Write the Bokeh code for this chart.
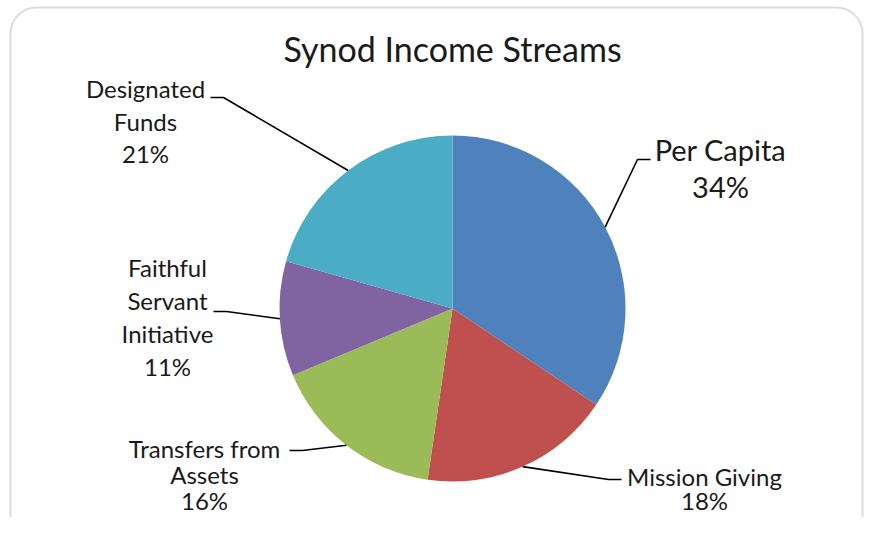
import math
from bokeh.plotting import figure
from bokeh.models import Range1d, BoxAnnotation, ColumnDataSource
from bokeh.core.properties import value
from bokeh.embed import file_html
from bokeh.resources import INLINE

# ---- data ----
title_text = "Synod Income Streams"
categories = ["Per Capita", "Mission Giving", "Transfers from Assets",
              "Faithful Servant Initiative", "Designated Funds"]
shares = [34.4, 17.9, 16.4, 10.7, 20.6]
colors = ["#4F81BD", "#C0504D", "#9BBB59", "#8064A2", "#4BACC6"]

# ---- layout (canvas pixels, origin top-left) ----
W, H = 865, 517
def Y(sy):
    return H - sy

BASE_FIX = 0.41  # em shift so that the drawn baseline lands where wanted

def text_y(baseline, size_px):
    return Y(baseline - BASE_FIX * size_px)

CX, CY, R = 452, 308, 173
FONT = value("Lato")
TXT = "#1a1a1a"

label_layout = {
    "Per Capita": dict(lines=["Per Capita"], cx=720, base=161, step=37, size=29,
                       elbow=[(650, 159), (637, 159)]),
    "Mission Giving": dict(lines=["Mission Giving"], cx=704, base=486, step=24, size=24,
                           elbow=[(621, 479), (608, 479)]),
    "Transfers from Assets": dict(lines=["Transfers from", "Assets"], cx=204, base=458, step=26,
                                  size=24, elbow=[(289, 450), (302, 450)]),
    "Faithful Servant Initiative": dict(lines=["Faithful", "Servant", "Initiative"], cx=167, base=277,
                                        step=33, size=24, elbow=[(213, 311), (226, 311)]),
    "Designated Funds": dict(lines=["Designated", "Funds"], cx=145, base=98, step=32.5, size=24,
                             elbow=[(210, 97), (223, 97)]),
}

p = figure(width=W, height=H, x_range=Range1d(0, W), y_range=Range1d(0, H),
           output_backend="svg", toolbar_location=None, min_border=0,
           x_axis_location=None, y_axis_location=None)
p.grid.visible = False
p.outline_line_color = None
p.background_fill_color = "white"
p.border_fill_color = "white"

# frame
p.add_layout(BoxAnnotation(left=10, right=862, top=Y(7), bottom=Y(545),
                           fill_color=None, line_color="#8a8a8a", line_width=2,
                           border_radius=26))

# wedges
total = sum(shares)
starts, ends, mids = [], [], []
cum = 0.0
for s in shares:
    a0 = math.pi / 2 - 2 * math.pi * cum / total
    cum += s
    a1 = math.pi / 2 - 2 * math.pi * cum / total
    starts.append(a0)
    ends.append(a1)
    mids.append((a0 + a1) / 2)

src = ColumnDataSource(dict(x=[CX] * len(shares), y=[Y(CY)] * len(shares),
                            start=starts, end=ends, color=colors))
p.wedge(x="x", y="y", radius=R, start_angle="start", end_angle="end",
        direction="clock", fill_color="color", line_color=None, source=src)

# title
p.text(x=[452], y=[text_y(62, 34)], text=[title_text], text_font=FONT, text_font_size="34px",
       text_color=TXT, text_align="center", text_baseline="alphabetic")

# labels and leader lines
for cat, s, m in zip(categories, shares, mids):
    L = label_layout[cat]
    lines = L["lines"] + [f"{round(s)}%"]
    xs = [L["cx"]] * len(lines)
    ys = [text_y(L["base"] + i * L["step"], L["size"]) for i in range(len(lines))]
    p.text(x=xs, y=ys, text=lines, text_font=FONT, text_font_size=f"{L['size']}px",
           text_color=TXT, text_align="center", text_baseline="alphabetic")
    px = CX + R * math.cos(m)
    py = CY - R * math.sin(m)
    (ex0, ey0), (ex1, ey1) = L["elbow"]
    p.line(x=[ex0, ex1, px], y=[Y(ey0), Y(ey1), Y(py)], line_color="black", line_width=1.6)

open("out.html", "w").write(file_html(p, INLINE))
